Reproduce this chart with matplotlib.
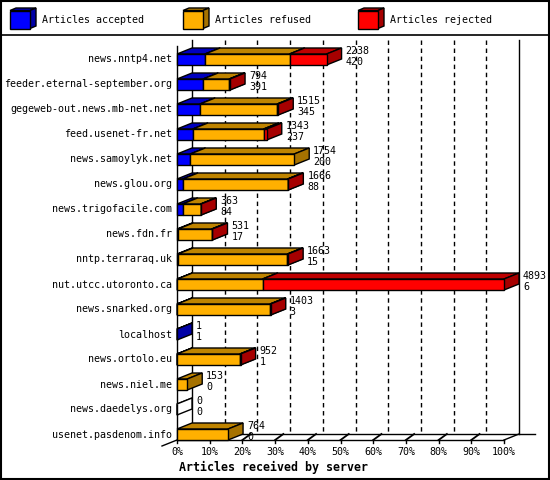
import matplotlib
matplotlib.use("Agg")
import matplotlib.pyplot as plt
from matplotlib.patches import Polygon, Rectangle
import numpy as np

# Data
servers = [
    "news.nntp4.net", "feeder.eternal-september.org", "gegeweb-out.news.mb-net.net",
    "feed.usenet-fr.net", "news.samoylyk.net", "news.glou.org", "news.trigofacile.com",
    "news.fdn.fr", "nntp.terraraq.uk", "nut.utcc.utoronto.ca", "news.snarked.org",
    "localhost", "news.ortolo.eu", "news.niel.me", "news.daedelys.org",
    "usenet.pasdenom.info",
]
totals = [2238, 794, 1515, 1343, 1754, 1666, 363, 531, 1663, 4893, 1403, 1, 952, 153, 0, 764]
accepted = [420, 391, 345, 237, 200, 88, 84, 17, 15, 6, 3, 1, 1, 0, 0, 0]
rejected = [553, 12, 15, 45, 0, 10, 8, 10, 10, 3611, 9, 0, 10, 0, 0, 0]
refused = [t - a - r for t, a, r in zip(totals, accepted, rejected)]

series_names = ["Articles accepted", "Articles refused", "Articles rejected"]
series_colors = ["#0000ff", "#ffb000", "#ff0000"]
x_ticks = list(range(0, 101, 10))
x_label = "Articles received by server"

FONT = "DejaVu Sans Mono"
FS = 7.2

# 3d geometry, in data units (x: percent, y: rows)
PX_X = 3.27   # pixels per percent
PX_Y = 25.0   # pixels per row
DX = 15 / PX_X
DY = 6 / PX_Y
HALF = 5.5 / PX_Y
FLOOR = 15.22
TOP = -0.78


def shade(color, f):
    r, g, b = matplotlib.colors.to_rgb(color)
    return (r * f, g * f, b * f)


def box(ax, x0, x1, y, color, fill=True, z=3):
    top, bot = y - HALF, y + HALF
    kw = dict(edgecolor="black", linewidth=1.0, clip_on=False, zorder=z,
              joinstyle="miter")
    front = Polygon([(x0, top), (x1, top), (x1, bot), (x0, bot)],
                    facecolor=color if fill else "white", **kw)
    upper = Polygon([(x0, top), (x1, top), (x1 + DX, top - DY), (x0 + DX, top - DY)],
                    facecolor=shade(color, 0.75) if fill else "white", **kw)
    side = Polygon([(x1, top), (x1 + DX, top - DY), (x1 + DX, bot - DY), (x1, bot)],
                   facecolor=shade(color, 0.65) if fill else "white", **kw)
    for p in (upper, side, front):
        ax.add_patch(p)


fig = plt.figure(figsize=(5.5, 4.8), dpi=100)

# overlay in pixel coordinates for border and legend
bg = fig.add_axes([0, 0, 1, 1])
bg.set_xlim(0, 550)
bg.set_ylim(480, 0)
bg.axis("off")
bg.add_patch(Rectangle((0.8, 0.8), 548.4, 478.4, fill=False, edgecolor="black", linewidth=1.5))
bg.plot([0, 550], [35, 35], color="black", linewidth=1.2)
for i, (name, col) in enumerate(zip(series_names, series_colors)):
    lx = [10, 183, 358][i]
    bg.add_patch(Polygon([(lx, 10.5), (lx + 6, 8), (lx + 26, 8), (lx + 20, 10.5)],
                         facecolor=shade(col, 0.75), edgecolor="black", linewidth=1))
    bg.add_patch(Polygon([(lx + 20, 10.5), (lx + 26, 8), (lx + 26, 26), (lx + 20, 28.5)],
                         facecolor=shade(col, 0.65), edgecolor="black", linewidth=1))
    bg.add_patch(Rectangle((lx, 10.5), 20, 18, facecolor=col, edgecolor="black", linewidth=1))
    bg.text(lx + 32, 20, name, fontsize=FS, family=FONT, va="center", ha="left")

ax = fig.add_axes([177 / 550, 40 / 480, 327 / 550, 400 / 480])
ax.set_xlim(0, 100)
ax.set_ylim(FLOOR, TOP)
ax.axis("off")

line = dict(color="black", linewidth=1.0, clip_on=False, zorder=1)
# walls and floor
ax.plot([DX, DX], [TOP, FLOOR - DY], **line)
ax.plot([100 + DX, 100 + DX], [TOP, FLOOR - DY], **line)
ax.plot([0, 0], [TOP + DY, FLOOR], **line)
ax.plot([DX, 109.5], [FLOOR - DY, FLOOR - DY], **line)
ax.plot([0, 100], [FLOOR, FLOOR], **line)
ax.plot([100, 100 + DX], [FLOOR, FLOOR - DY], **line)
ax.plot([0, -DX], [FLOOR, FLOOR + DY], **line)

for t in x_ticks:
    if 0 < t < 100:
        ax.plot([t + DX, t + DX], [TOP, FLOOR - DY], color="black", linewidth=1.0,
                dashes=(3.2, 2.6), clip_on=False, zorder=1)
        ax.plot([t, t + DX * 0.55], [FLOOR, FLOOR - DY], color="black",
                linewidth=1.3, clip_on=False, zorder=1)
    ax.plot([t, t], [FLOOR, FLOOR + 3 / PX_Y], **line)
    ax.text(t, FLOOR + 12 / PX_Y, f"{t}%", fontsize=FS, family=FONT,
            ha="center", va="center")

ax.text(0.6, FLOOR + 27 / PX_Y, x_label, fontsize=8.4, family=FONT,
        fontweight="bold", ha="left", va="center")

vmax = max(totals)
for i, name in enumerate(servers):
    ax.text(-5 / PX_X, i, name, fontsize=FS, family=FONT, ha="right", va="center")
    parts = [accepted[i], refused[i], rejected[i]]
    start = 0.0
    end = 0.0
    if totals[i] == 0:
        box(ax, 0, 0, i, "white", fill=False)
    for val, col in zip(parts, series_colors):
        if val <= 0:
            continue
        w = val / vmax * 100
        box(ax, start, start + w, i, col)
        start += w
        end = start
    tx = end + DX + 4 / PX_X
    ax.text(tx, i - 0.34, str(totals[i]), fontsize=FS, family=FONT, ha="left", va="center")
    ax.text(tx, i + 0.09, str(accepted[i]), fontsize=FS, family=FONT, ha="left", va="center")

fig.savefig("out.png", dpi=100)
